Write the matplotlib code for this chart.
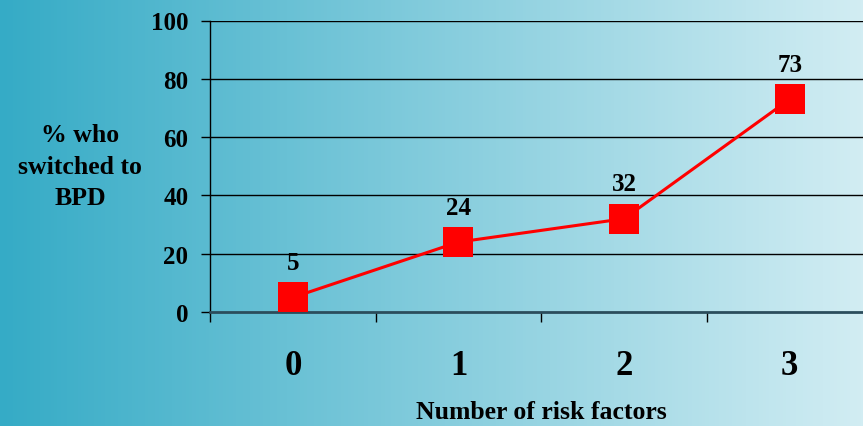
import numpy as np
import matplotlib
matplotlib.use("Agg")
import matplotlib.pyplot as plt
from matplotlib.colors import LinearSegmentedColormap

# data
risk_factors = [0, 1, 2, 3]
pct_switched = [5, 24, 32, 73]
y_ticks = [0, 20, 40, 60, 80, 100]

plt.rcParams['font.family'] = ['Liberation Serif', 'DejaVu Serif']
plt.rcParams['font.weight'] = 'bold'

fig = plt.figure(figsize=(8.63, 4.27), dpi=100)

# horizontal teal-to-pale background
bg = fig.add_axes([0, 0, 1, 1], zorder=-10)
cmap = LinearSegmentedColormap.from_list('bg', ['#35abc6', '#d2edf3'])
bg.imshow(np.linspace(0, 1, 256).reshape(1, -1), aspect='auto', cmap=cmap,
          extent=[0, 1, 0, 1])
bg.axis('off')

ax = fig.add_axes([210 / 863, 114 / 427, 662.5 / 863, 291.5 / 427])
ax.set_facecolor('none')
ax.set_xlim(-0.5, 3.5)
ax.set_ylim(0, 100)

ax.plot(risk_factors, pct_switched, color='#ff0000', lw=2.2, marker='s',
        markersize=22, markerfacecolor='#ff0000', markeredgewidth=0,
        clip_on=False, zorder=5)

for x, v in zip(risk_factors, pct_switched):
    ax.annotate(str(v), (x, v), xytext=(0, 25), textcoords='offset points',
                ha='center', va='center', fontsize=18, fontweight='bold')

# y axis: gridlines with outward ticks
ax.set_yticks(y_ticks)
ax.set_yticklabels([str(t) for t in y_ticks], fontsize=18, fontweight='bold')
ax.tick_params(axis='y', length=6.5, width=1, color='black', pad=9)
for t in y_ticks[1:]:
    ax.axhline(t, color='black', lw=1, zorder=1)

# x axis: labels at categories, ticks at boundaries
ax.set_xticks(risk_factors)
ax.set_xticklabels([str(c) for c in risk_factors], fontsize=25, fontweight='bold')
ax.set_xticks([-0.5, 0.5, 1.5, 2.5, 3.5], minor=True)
ax.tick_params(axis='x', which='major', length=0, pad=27)
ax.tick_params(axis='x', which='minor', length=7, width=1, color='black')

for s in ['top', 'right']:
    ax.spines[s].set_visible(False)
ax.spines['left'].set_linewidth(1)
ax.spines['bottom'].set_color('#2b4d5c')
ax.spines['bottom'].set_linewidth(2)

fig.text(80 / 863, 1 - 167 / 427, '% who\nswitched to\nBPD', ha='center',
         va='center', fontsize=18.5, fontweight='bold', linespacing=1.45)
fig.text(541 / 863, 1 - 413 / 427, 'Number of risk factors', ha='center',
         va='center', fontsize=18.5, fontweight='bold')

fig.savefig('out.png', dpi=100)
